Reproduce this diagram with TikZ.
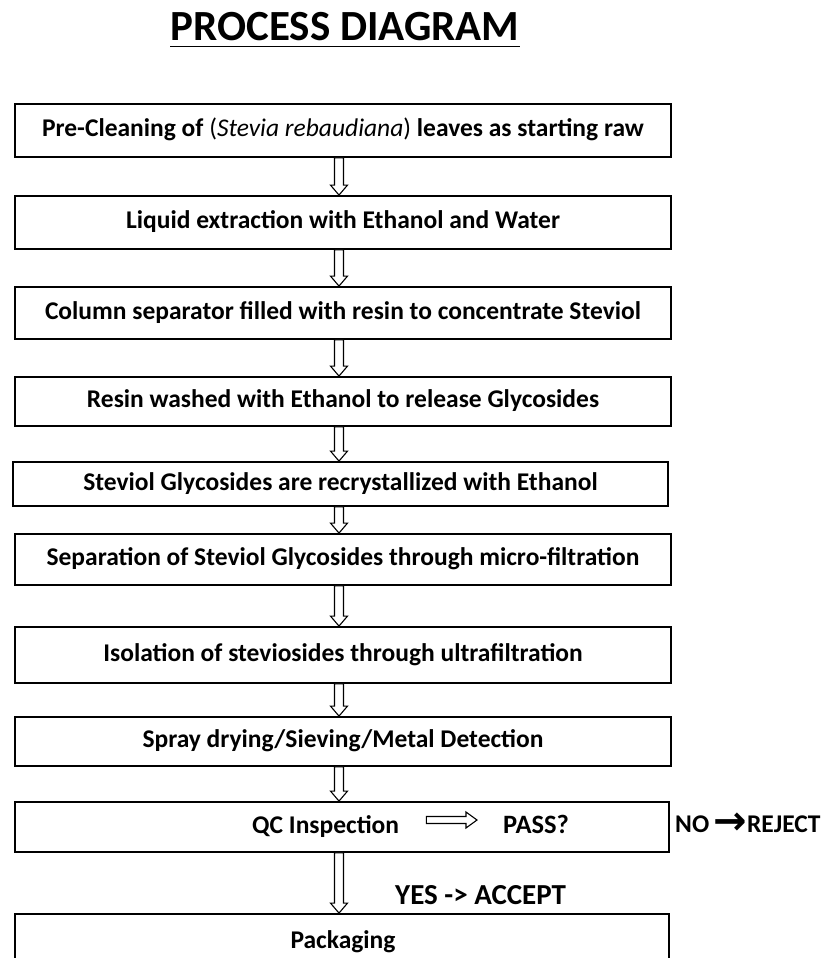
\documentclass[tikz,border=0pt]{standalone}
\usepackage{fontspec}
\setmainfont{Carlito}
\newfontfamily\symfont{DejaVu Sans}
\usetikzlibrary{calc}
\newcommand\bodyfont{\fontsize{25.5}{30}\selectfont\bfseries}
\tikzset{
  stepbox/.style={draw=black, line width=1.8pt, inner sep=0pt, text height=16pt, text depth=4pt, font=\bodyfont},
  freetext/.style={inner sep=0pt, font=\bodyfont},
  flowarrow/.style={draw=black, line width=1.1pt, fill=white, line join=miter},
}
\newcommand\vflow[2]{\draw[flowarrow] let \p1=(#1.south), \p2=(#2.north) in
  (334.5pt,\y1) -- (343.5pt,\y1) -- (343.5pt,\y2+10pt) -- (347.5pt,\y2+10pt) -- (339pt,\y2)
  -- (330.5pt,\y2+10pt) -- (334.5pt,\y2+10pt) -- cycle;}
\begin{document}
\begin{tikzpicture}[x=1pt,y=-1pt]
\clip (0,0) rectangle (835,958);
\fill[white] (0,0) rectangle (835,958);
% title
\node[anchor=base, inner sep=0pt, font=\fontsize{43}{50}\selectfont\bfseries] (title) at (345,40.5) {PROCESS DIAGRAM};
\draw[line width=1.6pt] ($(title.base west)+(0,6)$) -- ($(title.base east)+(0,6)$);
% boxes
\node[stepbox, minimum width=656pt, minimum height=53pt] (b1) at (343,130.5) {Pre-Cleaning of {\mdseries(\textit{Stevia rebaudiana})} leaves as starting raw};
\node[stepbox, minimum width=656pt, minimum height=53pt] (b2) at (343,222.5) {Liquid extraction with Ethanol and Water};
\node[stepbox, minimum width=656pt, minimum height=52pt] (b3) at (343,313) {Column separator filled with resin to concentrate Steviol};
\node[stepbox, minimum width=656pt, minimum height=49pt] (b4) at (343,401.5) {Resin washed with Ethanol to release Glycosides};
\node[stepbox, minimum width=655pt, minimum height=44pt] (b5) at (340.5,484) {Steviol Glycosides are recrystallized with Ethanol};
\node[stepbox, minimum width=656pt, minimum height=51pt] (b6) at (343,559.5) {Separation of Steviol Glycosides through micro-filtration};
\node[stepbox, minimum width=656pt, minimum height=56pt] (b7) at (343,655) {Isolation of steviosides through ultrafiltration};
\node[stepbox, minimum width=656pt, minimum height=49pt] (b8) at (343,741.5) {Spray drying/Sieving/Metal Detection};
\node[stepbox, minimum width=654pt, minimum height=50pt] (b9) at (342,827) {};
\node[stepbox, minimum width=654pt, minimum height=61pt] (b10) at (342,944.5) {};
% texts in QC and packaging boxes
\node[freetext, anchor=base west] (qct) at (252,833) {QC Inspection};
\node[freetext, anchor=base west, font=\fontsize{26.5}{30}\selectfont\bfseries] (pass) at (503,833) {PASS?};
\node[freetext, anchor=base] (pack) at (343,948) {Packaging};
\node[freetext, anchor=base west] (rej) at (675,832) {NO\,{\symfont\bfseries\fontsize{40}{40}\selectfont\raisebox{-2.5pt}{→}}REJECT};
\node[freetext, anchor=base west, font=\fontsize{29}{32}\selectfont\bfseries] (acc) at (395,904) {YES -> ACCEPT};
% arrows
\vflow{b1}{b2}
\vflow{b2}{b3}
\vflow{b3}{b4}
\vflow{b4}{b5}
\vflow{b5}{b6}
\vflow{b6}{b7}
\vflow{b7}{b8}
\vflow{b8}{b9}
\vflow{b9}{b10}
\draw[flowarrow] let \p1=(qct.east), \p2=(pass.west), \p3=(b9.center) in
  (\x1+27pt,\y3+10.5pt) -- (\x2-37pt,\y3+10.5pt) -- (\x2-37pt,\y3+15pt) -- (\x2-26pt,\y3+7pt)
  -- (\x2-37pt,\y3-1pt) -- (\x2-37pt,\y3+3.5pt) -- (\x1+27pt,\y3+3.5pt) -- cycle;
\end{tikzpicture}
\end{document}
